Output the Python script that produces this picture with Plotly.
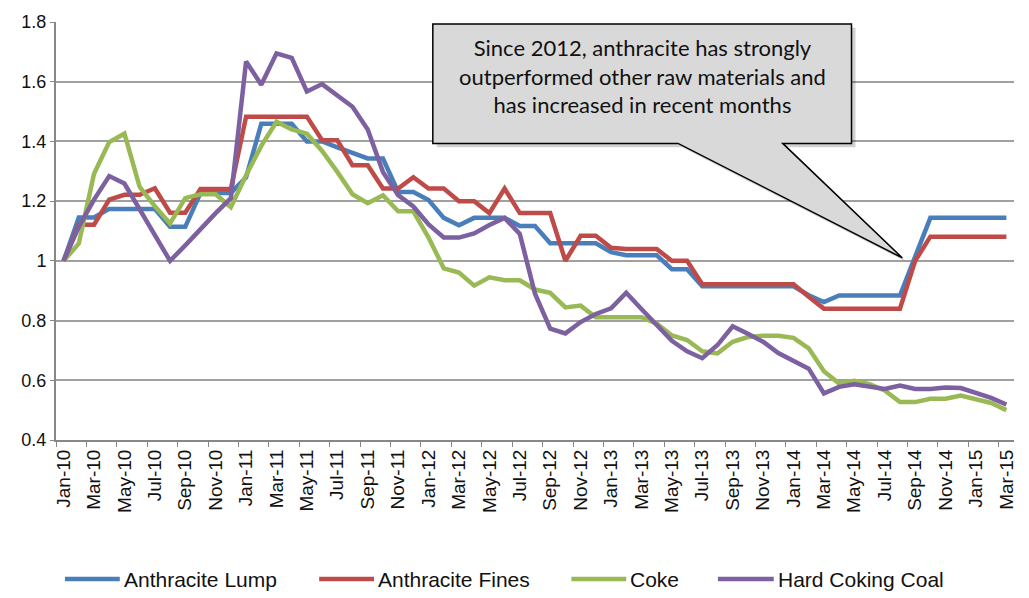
import plotly.graph_objects as go

months = ["Jan","Feb","Mar","Apr","May","Jun","Jul","Aug","Sep","Oct","Nov","Dec"]
categories = [f"{m}-{y:02d}" for y in range(10, 16) for m in months][:63]

anthracite_lump = [1.0, 1.145, 1.145, 1.174, 1.174, 1.174, 1.174, 1.114, 1.114, 1.227,
                   1.227, 1.227, 1.28, 1.459, 1.459, 1.459, 1.40, 1.40, 1.38, 1.36,
                   1.343, 1.343, 1.231, 1.231, 1.204, 1.144, 1.119, 1.144, 1.144, 1.144,
                   1.117, 1.117, 1.059, 1.059, 1.059, 1.059, 1.029, 1.019, 1.019, 1.019,
                   0.972, 0.972, 0.915, 0.915, 0.915, 0.915, 0.915, 0.915, 0.915, 0.885,
                   0.862, 0.884, 0.884, 0.884, 0.884, 0.884, 1.014, 1.144, 1.144, 1.144,
                   1.144, 1.144, 1.144]
anthracite_fines = [1.0, 1.121, 1.121, 1.205, 1.221, 1.221, 1.243, 1.161, 1.161, 1.241,
                    1.241, 1.241, 1.483, 1.483, 1.483, 1.483, 1.483, 1.404, 1.404, 1.32,
                    1.32, 1.242, 1.242, 1.28, 1.242, 1.242, 1.20, 1.20, 1.16, 1.242,
                    1.16, 1.16, 1.16, 1.0, 1.084, 1.084, 1.044, 1.04, 1.04, 1.04,
                    1.0, 1.0, 0.922, 0.922, 0.922, 0.922, 0.922, 0.922, 0.922, 0.88,
                    0.84, 0.84, 0.84, 0.84, 0.84, 0.84, 1.0, 1.081, 1.081, 1.081,
                    1.081, 1.081, 1.081]
coke = [1.0, 1.058, 1.292, 1.398, 1.426, 1.248, 1.183, 1.125, 1.21, 1.223,
        1.223, 1.18, 1.287, 1.385, 1.466, 1.44, 1.426, 1.368, 1.298, 1.223,
        1.193, 1.22, 1.166, 1.166, 1.078, 0.975, 0.961, 0.917, 0.945, 0.935,
        0.935, 0.904, 0.893, 0.844, 0.85, 0.811, 0.811, 0.811, 0.811, 0.79,
        0.75, 0.735, 0.697, 0.69, 0.729, 0.745, 0.749, 0.749, 0.742, 0.707,
        0.63, 0.589, 0.598, 0.587, 0.566, 0.527, 0.527, 0.538, 0.538, 0.549,
        0.538, 0.524, 0.50]
hard_coking_coal = [1.0, 1.114, 1.205, 1.284, 1.259, 1.172, 1.08, 1.0, 1.052, 1.107,
                    1.16, 1.21, 1.668, 1.59, 1.695, 1.68, 1.567, 1.592, 1.554, 1.516,
                    1.44, 1.298, 1.22, 1.182, 1.122, 1.078, 1.078, 1.092, 1.12, 1.144,
                    1.09, 0.89, 0.773, 0.757, 0.795, 0.822, 0.841, 0.893, 0.839, 0.784,
                    0.732, 0.697, 0.674, 0.718, 0.781, 0.756, 0.729, 0.691, 0.663, 0.639,
                    0.556, 0.578, 0.587, 0.578, 0.571, 0.582, 0.571, 0.571, 0.576, 0.574,
                    0.556, 0.541, 0.519]

series_names = ["Anthracite Lump", "Anthracite Fines", "Coke", "Hard Coking Coal"]
series_values = [anthracite_lump, anthracite_fines, coke, hard_coking_coal]
colors = ["#4A7EBB", "#BE4B48", "#98B954", "#7D60A0"]

y_tickvals = [0.4, 0.6, 0.8, 1.0, 1.2, 1.4, 1.6, 1.8]
y_ticktext = ["0.4", "0.6", "0.8", "1", "1.2", "1.4", "1.6", "1.8"]

callout_text = ("Since 2012, anthracite has strongly<br>"
                "outperformed other raw materials and<br>"
                "has increased in recent months")

W, H = 1029, 598
ML, MR, MT, MB = 56, 12, 13, 158
PW, PH = W - ML - MR, H - MT - MB


def px(x):
    return (x - ML) / PW


def py(y):
    return (H - MB - y) / PH


fig = go.Figure()
for name, vals, col in zip(series_names, series_values, colors):
    fig.add_trace(go.Scatter(x=categories, y=vals, mode="lines", name=name,
                             line=dict(color=col, width=4.5), showlegend=False,
                             hoverinfo="skip"))

# callout
pts = [(434, 15), (854, 15), (854, 137), (785, 137), (905, 254), (680, 137), (434, 137)]


def path(points, dx=0, dy=0):
    s = "M " + " L ".join(f"{px(x + dx):.5f},{py(y + dy):.5f}" for x, y in points) + " Z"
    return s


shapes = [
    dict(type="path", xref="paper", yref="paper", path=path(pts, 4, 4),
         fillcolor="rgba(0,0,0,0.18)", line=dict(width=0)),
    dict(type="path", xref="paper", yref="paper", path=path(pts),
         fillcolor="#D9D9D9", line=dict(color="black", width=1.5)),
]
annotations = [
    dict(xref="paper", yref="paper", x=px(644), y=py(68), text=callout_text,
         showarrow=False, align="center", xanchor="center", yanchor="middle",
         font=dict(family="Lato, Carlito, sans-serif", size=22, color="#111")),
]

# manual legend
legend_pos = [(65, 120), (320, 375), (573, 628), (720, 776)]
ly = 582
for (x0, x1), name, col in zip(legend_pos, series_names, colors):
    shapes.append(dict(type="line", xref="paper", yref="paper", x0=px(x0), x1=px(x1),
                       y0=py(ly), y1=py(ly), line=dict(color=col, width=4.5)))
    annotations.append(dict(xref="paper", yref="paper", x=px(x1 + 2), y=py(ly),
                            text=name, showarrow=False, xanchor="left", yanchor="middle",
                            font=dict(family="Arial, Liberation Sans, sans-serif", size=21,
                                      color="#111")))

fig.update_layout(
    width=W, height=H,
    margin=dict(l=ML, r=MR, t=MT, b=MB),
    paper_bgcolor="white", plot_bgcolor="white",
    shapes=shapes, annotations=annotations,
    font=dict(family="Arial, Liberation Sans, sans-serif", color="#111"),
    xaxis=dict(type="category", tickmode="linear", tick0=0, dtick=2,
               tickson="boundaries", tickangle=-90, ticks="outside", ticklen=5,
               tickcolor="#878787", showline=True, linecolor="#878787", linewidth=2,
               showgrid=False, range=[-0.5, 62.5], tickfont=dict(size=19)),
    yaxis=dict(range=[0.4, 1.8], tickvals=y_tickvals, ticktext=y_ticktext,
               ticks="outside", ticklen=4, tickcolor="#878787",
               showline=True, linecolor="#878787", linewidth=2,
               showgrid=True, gridcolor="#A0A0A0", gridwidth=1.5, zeroline=False,
               tickfont=dict(size=18)),
)

fig.write_html("out.html")
